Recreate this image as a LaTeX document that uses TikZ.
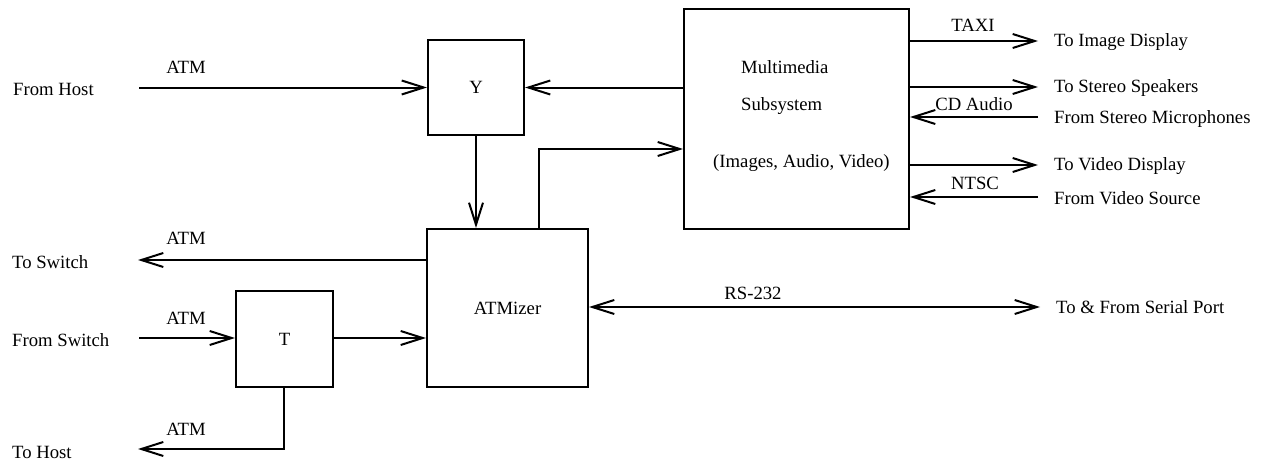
\documentclass[tikz,border=0pt]{standalone}
\usepackage{fontspec}
\setmainfont{Liberation Serif}
\usetikzlibrary{arrows.meta}
\begin{document}
\begin{tikzpicture}[x=1pt,y=-1pt,
  font=\fontsize{18.7}{22}\selectfont,
  lw/.style={line width=2pt},
  blk/.style={draw, lw, inner sep=0pt},
  arr/.style={lw, -{Straight Barb[length=22pt,width=14pt,line width=2pt]}},
  darr/.style={lw, {Straight Barb[length=22pt,width=14pt,line width=2pt]}-{Straight Barb[length=22pt,width=14pt,line width=2pt]}},
  lbl/.style={inner sep=0pt, anchor=west},
  tag/.style={inner sep=0pt}]
\useasboundingbox (0,0) rectangle (1270,463);
% blocks
\node[blk, minimum width=96, minimum height=95] (Y) at (476,87.5) {Y};
\node[blk, minimum width=225, minimum height=220] (MM) at (796.5,119) {};
\node[blk, minimum width=161, minimum height=158] (ATM) at (507.5,308) {ATMizer};
\node[blk, minimum width=97, minimum height=96] (T) at (284.5,339) {T};
% text inside multimedia
\node[lbl] (mm1) at (741,67) {Multimedia};
\node[lbl] (mm2) at (741,106) {Subsystem};
\node[lbl] (mm3) at (713,163) {(Images, Audio, Video)};
% left texts
\node[lbl] (fh) at (13,89) {From Host};
\node[lbl] (ts) at (12,262) {To Switch};
\node[lbl] (fs) at (12,340) {From Switch};
\node[lbl] (th) at (12,452) {To Host};
% right texts
\node[lbl] (tid) at (1054,42) {To Image Display};
\node[lbl] (tss) at (1054,88) {To Stereo Speakers};
\node[lbl] (fsm) at (1054,119) {From Stereo Microphones};
\node[lbl] (tvd) at (1054,166) {To Video Display};
\node[lbl] (fvs) at (1054,198) {From Video Source};
\node[lbl] (sp) at (1056,307) {To \& From Serial Port};
% coordinates
\coordinate (fhs) at (139,87.5);
\coordinate (tse) at (138,260);
\coordinate (fss) at (139,338);
\coordinate (the) at (138,449);
\coordinate (tcorner) at (284,449);
\coordinate (up) at (539,149);
\coordinate (spe) at (1040,307);
\coordinate (r1) at (1038,41);
\coordinate (r2) at (1038,87);
\coordinate (r3) at (1038,117);
\coordinate (r4) at (1038,165);
\coordinate (r5) at (1038,197);
% connectors
\draw[arr] (fhs) -- (Y.west);
\node[tag] at (186,67) {ATM};
\draw[arr] (MM.west |- Y.east) -- (Y.east);
\draw[arr] (Y.south) -- (Y.south |- ATM.north);
\draw[arr] (up |- ATM.north) -- (up) -- (MM.west |- up);
\draw[arr] (ATM.west |- tse) -- (tse);
\node[tag] at (186,238) {ATM};
\draw[arr] (fss) -- (T.west |- fss);
\node[tag] at (186,318) {ATM};
\draw[arr] (T.east |- fss) -- (ATM.west |- fss);
\draw[arr] (T.south -| tcorner) -- (tcorner) -- (the);
\node[tag] at (186,429) {ATM};
\draw[darr] (ATM.east |- spe) -- (spe);
\node[tag] at (753,293) {RS-232};
\draw[arr] (MM.east |- r1) -- (r1);
\node[tag] at (973,25) {TAXI};
\draw[arr] (MM.east |- r2) -- (r2);
\draw[arr] (r3) -- (MM.east |- r3);
\node[tag] at (974,104) {CD Audio};
\draw[arr] (MM.east |- r4) -- (r4);
\draw[arr] (r5) -- (MM.east |- r5);
\node[tag] at (975,183) {NTSC};
\end{tikzpicture}
\end{document}
